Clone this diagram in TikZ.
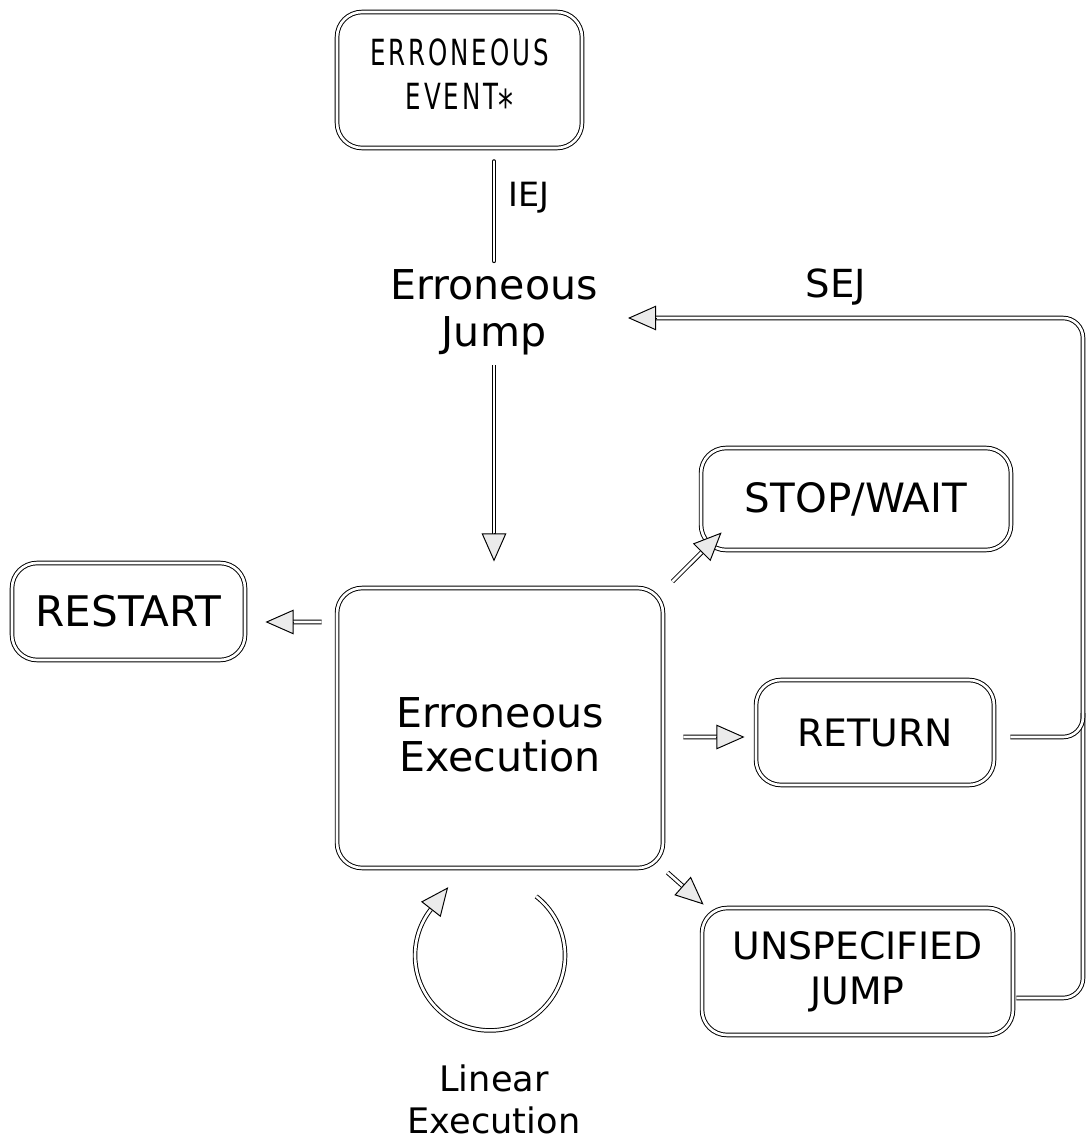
\documentclass[tikz,border=0pt]{standalone}
\usepackage{fontspec}
\setmainfont{DejaVu Sans}
\newfontfamily\narrowfont[FakeStretch=0.68, LetterSpace=8]{DejaVu Sans}
\usetikzlibrary{arrows.meta,calc}

% shaft drawn as a double line, head as a separate lightly filled triangle
\newcommand\hollowarrow[2]{%
  \draw[dbl] (#1) -- ($(#2)!14pt!(#1)$);
  \draw[head] ($(#2)!16pt!(#1)$) -- (#2);}

\tikzset{
  dbl/.style={draw, double, double distance=1.5pt, line width=0.55pt},
  box/.style={dbl, rounded corners=0.5cm, align=center, inner sep=0pt},
  head/.style={line width=0.55pt, -{Triangle[length=16pt, width=14pt, fill=black!8]}},
  lbl/.style={align=center, inner sep=0pt},
}

\begin{document}
\begin{tikzpicture}[x=0.02cm, y=0.02cm]
  \fill[white] (0,0) rectangle (1090,-1142);
  \useasboundingbox (0,0) rectangle (1090,-1142);

  % boxes
  \node[box, minimum width=4.9cm, minimum height=2.72cm,
        font=\narrowfont\fontsize{20.5}{25.5}\selectfont] (ev) at (459.5,-80)
        {ERRONEOUS\\EVENT\raisebox{-0.6ex}{\fontsize{25}{25}\selectfont *}};
  \node[box, minimum width=4.66cm, minimum height=1.94cm,
        font=\fontsize{24}{28}\selectfont] (restart) at (128.5,-611.5) {RESTART};
  \node[box, minimum width=6.52cm, minimum height=5.6cm] (exec) at (500,-728) {};
  \node[lbl, font=\fontsize{23.4}{25.2}\selectfont] (exectxt)
        at ($(exec.center)+(0,-7)$) {Erroneous\\Execution};
  \node[box, minimum width=6.2cm, minimum height=2.04cm,
        font=\fontsize{23}{27}\selectfont] (stop) at (856,-499) {STOP/WAIT};
  \node[box, minimum width=4.76cm, minimum height=2.1cm,
        font=\fontsize{21.5}{26}\selectfont] (ret) at (875,-732.5) {RETURN};
  \node[box, minimum width=6.22cm, minimum height=2.54cm,
        font=\fontsize{21.5}{25.6}\selectfont] (uj) at (857.5,-971.5)
        {UNSPECIFIED\\JUMP};

  % free labels
  \node[lbl, font=\fontsize{23.4}{26.7}\selectfont] (ejump) at (494,-312)
        {Erroneous\\Jump};
  \node[lbl, font=\fontsize{19}{22}\selectfont] (iej) at (529,-198) {IEJ};
  \node[lbl, font=\fontsize{22}{26}\selectfont] (sej) at (836,-287) {SEJ};
  \node[lbl, font=\fontsize{20}{24}\selectfont] (linear) at (494,-1099)
        {Linear\\Execution};

  % IEJ line from the event to the jump
  \draw[dbl, line cap=round] ($(ev.south -| ejump.center)+(0,-13)$)
        -- ($(ejump.north)+(0,8)$);

  % jump into erroneous execution
  \coordinate (a1s) at ($(ejump.south)+(0,-10)$);
  \coordinate (a1t) at ($(exec.north)+(-6,26)$);
  \hollowarrow{a1s}{a1t}

  % exits of erroneous execution
  \coordinate (a2s) at ($(exec.west)+(-15,106)$);
  \coordinate (a2t) at ($(restart.east)+(20,-10.5)$);
  \hollowarrow{a2s}{a2t}

  \coordinate (a3s) at ($(exec.north east)+(9,6)$);
  \coordinate (a3t) at ($(stop.south west)+(21,18)$);
  \hollowarrow{a3s}{a3t}

  \coordinate (a4s) at ($(exec.east)+(20,-9)$);
  \coordinate (a4t) at ($(ret.west)+(-11,-4.5)$);
  \hollowarrow{a4s}{a4t}

  \coordinate (a5s) at ($(exec.south east)+(4,-4)$);
  \coordinate (a5t) at ($(uj.north west)+(2,3)$);
  \hollowarrow{a5s}{a5t}

  % SEJ feedback from unspecified jump and return
  \coordinate (sejs) at ($(uj.east)+(3,-26.5)$);
  \coordinate (corner) at (1083,-318);
  \coordinate (sejt) at ($(ejump.east)+(30,-6)$);
  \draw[dbl, rounded corners=0.4cm] (sejs) -| (corner)
        -- ($(sejt)!14pt!(corner)$);
  \draw[head] ($(sejt)!16pt!(corner)$) -- (sejt);
  \coordinate (rets) at ($(ret.east)+(16,-4.5)$);
  \draw[dbl, rounded corners=0.4cm] (rets) -| ($(corner |- rets)+(0,24)$);

  % linear execution loop
  \coordinate (loopc) at ($(exec.south)+(-10,-87)$);
  \draw[dbl] ($(loopc)+(52:75)$) arc[start angle=52, end angle=-218, radius=1.5cm];
  \draw[head] ($(loopc)+(142:75)$) -- ++(52:28);
\end{tikzpicture}
\end{document}
